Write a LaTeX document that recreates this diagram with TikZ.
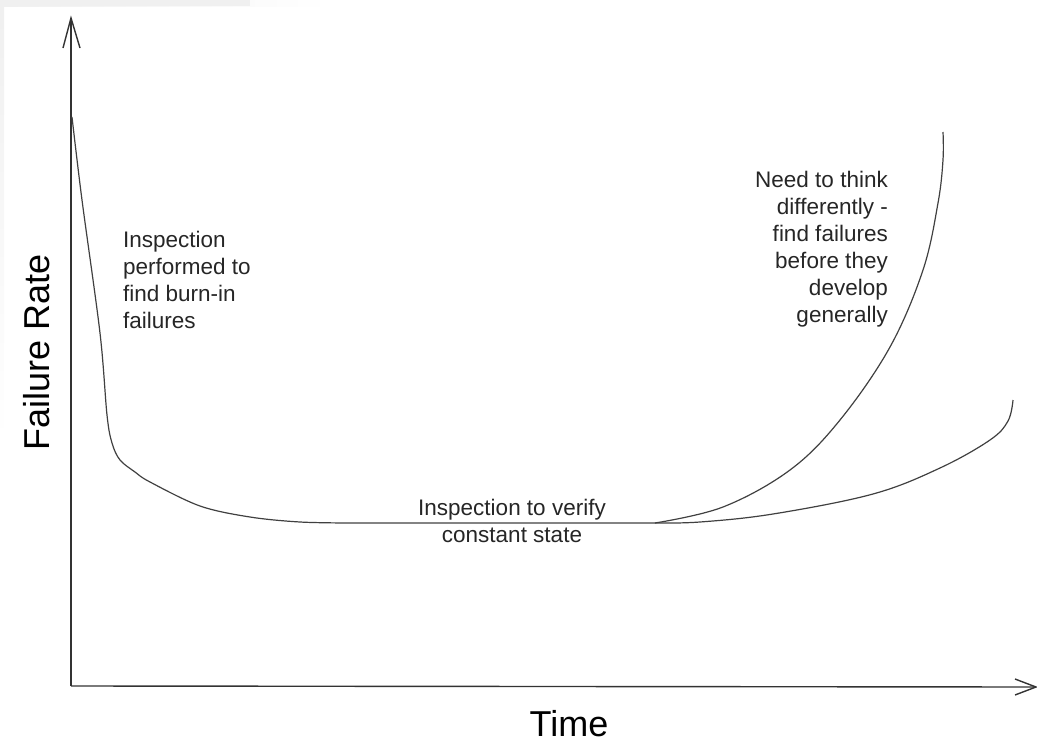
\documentclass[tikz,border=0pt]{standalone}
\usepackage{fontspec}
\setmainfont{Liberation Sans}
\begin{document}
\begin{tikzpicture}[x=1pt,y=-1pt,
  axis/.style={draw=black!80, line width=1.4pt},
  curve/.style={draw=black!75, line width=1.2pt, line join=round},
  lbl/.style={text=black!85, font=\fontsize{22.5}{27}\selectfont, inner sep=0pt, align=left},
  big/.style={text=black, font=\fontsize{36}{43}\selectfont, inner sep=0pt}]
\useasboundingbox (0,0) rectangle (1037,744);
% faint screenshot frame
\shade[left color=black!6, right color=white] (0,0) rectangle (330,6);
\fill[black!6] (0,0) rectangle (250,6);
\shade[top color=black!6, bottom color=white] (0,6) rectangle (4,442);
% axes
\coordinate (O) at (71,686);
\coordinate (Ytip) at (71,18);
\coordinate (Xtip) at (1036,687);
\draw[axis] (O) -- (Ytip);
\draw[axis] (O) -- (Xtip);
\draw[axis, line join=miter] (63,48) -- (Ytip) -- (80,48);
\draw[axis, line join=miter] (1015,679) -- (Xtip) -- (1015,695);
% bathtub curve
\coordinate (flatL) at (350,523);
\coordinate (split) at (655,523);
\draw[curve] plot[smooth, tension=0.55] coordinates {(72,117) (82,200) (100,333) (107,415) (112,443) (120,460) (135,472) (150,482) (200,506) (250,517) (300,522) (350,523)} -- (split);
% wear-out branch (steep)
\draw[curve] plot[smooth, tension=0.6] coordinates {(split) (723,507) (790,470) (840,420) (890,347) (923,270) (938,203) (943,160) (943,132)};
% wear-out branch (gentle)
\draw[curve] plot[smooth, tension=0.6] coordinates {(split) (700,522) (773,514) (873,494) (940,468) (990,440) (1008,421) (1013,400)};
% labels
\node[lbl, anchor=north west] (burnin) at (123,231) {Inspection\\performed to\\find burn-in\\failures};
\node[lbl, align=center, anchor=north] (const) at (512,499) {Inspection to verify\\constant state};
\node[lbl, align=right, anchor=north east] (wear) at (888,171) {Need to think\\differently -\\find failures\\before they\\develop\\generally};
\node[big, rotate=90] (ylab) at (37,352) {Failure Rate};
\node[big] (xlab) at (569,724) {Time};
\end{tikzpicture}
\end{document}
